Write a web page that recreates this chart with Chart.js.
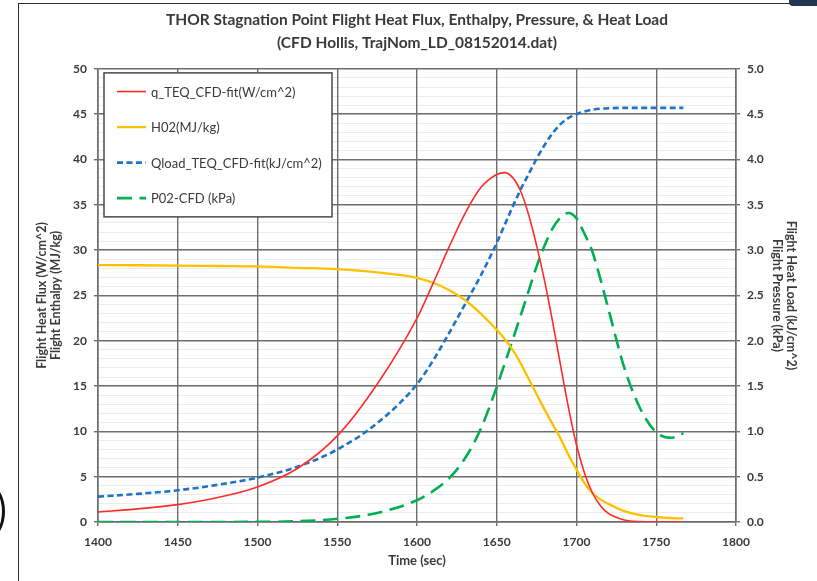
<!DOCTYPE html>
<html>
<head>
<meta charset="utf-8">
<title>THOR Stagnation Point Flight Heat Flux</title>
<script src="https://cdn.jsdelivr.net/npm/chart.js@4.4.1/dist/chart.umd.min.js"></script>
<style>
  html, body { margin: 0; padding: 0; background: #fff; }
  #wrap { position: relative; width: 817px; height: 581px; overflow: hidden; background: #fff; }
  #wrap canvas { position: absolute; left: 0; top: 0; }
  .edge-top { position: absolute; left: 18px; top: 3px; width: 772px; height: 0; border-top: 1.5px solid #2b2b2b; }
  .edge-left { position: absolute; left: 18px; top: 3px; width: 0; height: 580px; border-left: 1.5px solid #2b2b2b; }
  .tab { position: absolute; left: 789px; top: -4px; width: 40px; height: 10px; background: #22384f; border-radius: 0 0 0 4px; }
  .ring { position: absolute; left: -29px; top: 484px; width: 28px; height: 49px; border: 3.5px solid #111; border-radius: 50%; }
</style>
</head>
<body>
<div id="wrap">
  <canvas id="chart" width="817" height="581"></canvas>
  <div class="edge-top"></div>
  <div class="edge-left"></div>
  <div class="tab"></div>
  <div class="ring"></div>
</div>
<script>
// Trajectory time samples (s)
const times = [1400, 1425, 1450, 1475, 1500, 1525, 1550, 1575, 1600,
  1610, 1620, 1630, 1640, 1650, 1655, 1660, 1665, 1670, 1675, 1680,
  1685, 1690, 1695, 1700, 1705, 1710, 1715, 1720, 1730, 1740, 1750, 1760, 1767];

// Stagnation heat flux, W/cm^2 (left axis)
const heatFlux = [1.1, 1.45, 1.92, 2.7, 3.87, 5.9, 9.5, 15.2, 22.5,
  26.3, 30.3, 34.0, 36.9, 38.35, 38.55, 38.0, 36.5, 33.9, 30.5, 26.6,
  22.1, 17.3, 12.6, 8.5, 5.4, 3.2, 1.8, 0.95, 0.22, 0.04, 0.01, 0, 0];

// Total enthalpy, MJ/kg (left axis)
const enthalpy = [28.35, 28.33, 28.3, 28.25, 28.2, 28.05, 27.9, 27.55, 26.95,
  26.4, 25.6, 24.5, 23.0, 21.2, 20.2, 19.0, 17.5, 15.8, 14.1, 12.4,
  10.8, 9.2, 7.4, 5.8, 4.3, 3.2, 2.5, 2.0, 1.2, 0.75, 0.55, 0.42, 0.4];

// Integrated heat load, kJ/cm^2 (right axis)
const heatLoad = [0.28, 0.31, 0.35, 0.41, 0.49, 0.61, 0.80, 1.09, 1.52,
  1.78, 2.08, 2.40, 2.72, 3.08, 3.28, 3.48, 3.67, 3.84, 4.01, 4.16,
  4.29, 4.39, 4.46, 4.50, 4.53, 4.55, 4.56, 4.565, 4.57, 4.57, 4.57, 4.57, 4.57];

// Stagnation pressure, kPa (right axis)
const pressure = [0, 0, 0, 0, 0.002, 0.008, 0.035, 0.10, 0.24,
  0.34, 0.48, 0.70, 1.03, 1.49, 1.75, 2.01, 2.28, 2.55, 2.82, 3.05,
  3.24, 3.36, 3.41, 3.35, 3.18, 2.98, 2.68, 2.35, 1.70, 1.25, 0.99, 0.93, 0.98];

const seriesLabels = ['q_TEQ_CFD-fit(W/cm^2)', 'H02(MJ/kg)', 'Qload_TEQ_CFD-fit(kJ/cm^2)', 'P02-CFD (kPa)'];
const chartTitle = ['THOR Stagnation Point Flight Heat Flux, Enthalpy, Pressure, & Heat Load',
  '(CFD Hollis, TrajNom_LD_08152014.dat)'];
const xTitle = 'Time (sec)';
const leftTitle = ['Flight Heat Flux (W/cm^2)', 'Flight Enthalpy (MJ/kg)'];
const rightTitle = ['Flight Heat Load (kJ/cm^2)', 'Flight Pressure (kPa)'];

const pairs = (vals) => times.map((t, i) => ({ x: t, y: vals[i] }));

const TEXT = '#3a3a3a';
const GRID = '#6e6e6e';
const FONT = 'Lato, "Open Sans", sans-serif';

// Boxed legend drawn in the upper-left corner of the plot area
const boxedLegend = {
  id: 'boxedLegend',
  afterDatasetsDraw(chart, args, o) {
    const { ctx, chartArea } = chart;
    const x0 = chartArea.left + o.x, y0 = chartArea.top + o.y;
    ctx.save();
    ctx.fillStyle = '#fff';
    ctx.fillRect(x0, y0, o.w, o.h);
    ctx.strokeStyle = '#4a4a4a';
    ctx.lineWidth = 1.5;
    ctx.strokeRect(x0, y0, o.w, o.h);
    ctx.font = o.font;
    ctx.fillStyle = TEXT;
    ctx.textBaseline = 'middle';
    ctx.textAlign = 'left';
    chart.data.datasets.forEach((ds, i) => {
      const y = chartArea.top + o.firstRow + i * o.rowGap;
      const sx = chartArea.left + o.sampleX;
      ctx.save();
      ctx.strokeStyle = ds.borderColor;
      ctx.lineWidth = ds.borderWidth;
      ctx.setLineDash(ds.borderDash || []);
      ctx.beginPath();
      ctx.moveTo(sx, y);
      ctx.lineTo(sx + o.sampleW, y);
      ctx.stroke();
      ctx.restore();
      ctx.fillText(ds.label, sx + o.sampleW + o.textGap, y + 1);
    });
    ctx.restore();
  }
};

new Chart(document.getElementById('chart'), {
  type: 'line',
  data: {
    datasets: [
      { label: seriesLabels[0], data: pairs(heatFlux), yAxisID: 'y',
        borderColor: '#ff2b2b', borderWidth: 1.6 },
      { label: seriesLabels[1], data: pairs(enthalpy), yAxisID: 'y',
        borderColor: '#ffc000', borderWidth: 2.3 },
      { label: seriesLabels[2], data: pairs(heatLoad), yAxisID: 'y1',
        borderColor: '#1e73c6', borderWidth: 2.6, borderDash: [6, 3.5] },
      { label: seriesLabels[3], data: pairs(pressure), yAxisID: 'y1',
        borderColor: '#00b050', borderWidth: 2.6, borderDash: [15, 7.5] }
    ]
  },
  options: {
    responsive: false,
    animation: false,
    events: [],
    layout: { padding: 0 },
    elements: {
      point: { radius: 0 },
      line: { cubicInterpolationMode: 'monotone', fill: false }
    },
    plugins: {
      legend: { display: false },
      tooltip: { enabled: false },
      title: {
        display: true,
        fullSize: false,
        text: chartTitle,
        color: TEXT,
        font: { family: FONT, size: 15.5, weight: 'bold', lineHeight: 1.48 },
        padding: { top: 8.5, bottom: 14.5 }
      },
      boxedLegend: {
        x: 6, y: 4, w: 228, h: 144,
        firstRow: 22.7, rowGap: 35.5,
        sampleX: 19, sampleW: 29, textGap: 5,
        font: '13px ' + FONT
      }
    },
    scales: {
      x: {
        type: 'linear',
        position: 'bottom',
        min: 1400, max: 1800,
        ticks: { stepSize: 50, color: TEXT, padding: 9,
          callback: (v) => String(v),
          font: { family: FONT, size: 12, weight: 'bold' } },
        grid: { color: GRID, lineWidth: 1.4, tickLength: 4, tickColor: GRID },
        border: { color: GRID, width: 1.6 },
        title: { display: true, text: xTitle, color: TEXT,
          font: { family: FONT, size: 13, weight: 'bold' }, padding: { top: 0, bottom: 12 } },
        afterFit(s) { s.height = 59; }
      },
      yMinor: {
        type: 'linear',
        position: 'left',
        min: 0, max: 50,
        ticks: { display: false, stepSize: 1 },
        grid: { color: '#ebebeb', lineWidth: 1, drawTicks: false, z: -2 },
        border: { display: false },
        afterFit(s) { s.width = 0; }
      },
      y: {
        type: 'linear',
        position: 'left',
        min: 0, max: 50,
        ticks: { stepSize: 5, color: TEXT, padding: 7,
          font: { family: FONT, size: 12, weight: 'bold' } },
        grid: { color: GRID, lineWidth: 1.4, tickLength: 4, tickColor: GRID },
        border: { color: GRID, width: 1.6 },
        title: { display: true, text: leftTitle, color: TEXT,
          font: { family: FONT, size: 12.5, weight: 'bold', lineHeight: 1.1 },
          padding: { top: 35, bottom: 0 } },
        afterFit(s) { s.width = 98; }
      },
      y1: {
        type: 'linear',
        position: 'right',
        min: 0, max: 5,
        ticks: { stepSize: 0.5, color: TEXT, padding: 7,
          callback: (v) => v.toFixed(1),
          font: { family: FONT, size: 12, weight: 'bold' } },
        grid: { drawOnChartArea: false, color: GRID, lineWidth: 1.4, tickLength: 4, tickColor: GRID },
        border: { color: GRID, width: 1.6 },
        title: { display: true, text: rightTitle, color: TEXT,
          font: { family: FONT, size: 12.5, weight: 'bold', lineHeight: 1.1 },
          padding: { top: 19, bottom: 0 } },
        afterFit(s) { s.width = 81; }
      }
    }
  },
  plugins: [boxedLegend]
});
</script>
</body>
</html>
